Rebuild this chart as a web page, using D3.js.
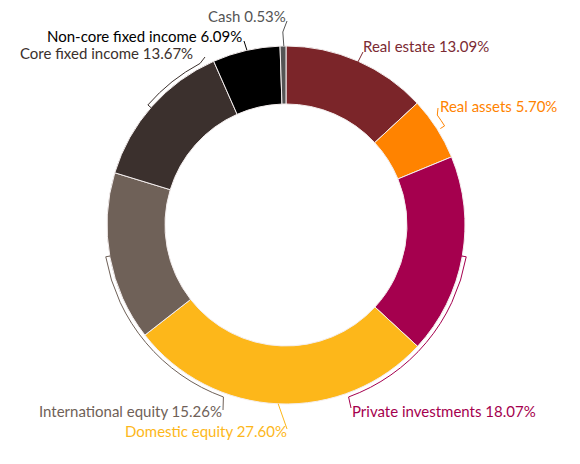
<!DOCTYPE html>
<html>
<head>
<meta charset="utf-8">
<script src="https://cdn.jsdelivr.net/npm/d3@7"></script>
<style>
  body { margin: 0; background: #fff; }
  text { font-family: Lato, "Open Sans", sans-serif; }
</style>
</head>
<body>
<div id="chart"></div>
<script>
// slices, clockwise from 12 o'clock
const categories = ["Real estate", "Real assets", "Private investments", "Domestic equity",
  "International equity", "Core fixed income", "Non-core fixed income", "Cash"];
const values = [13.09, 5.70, 18.07, 27.60, 15.26, 13.67, 6.09, 0.53];
const colors = ["#7b2529", "#ff8300", "#a5004e", "#fdb71a", "#6f6158", "#3b302d", "#000000", "#555555"];
const labelColors = ["#7b2a33", "#ff8300", "#a5004e", "#fdb71a", "#6f6158", "#3b302d", "#000000", "#555555"];

const width = 580, height = 464;
const cx = 286, cy = 225, rOuter = 179, rInner = 121, rBr = 183;

let svg = d3.select("#chart").append("svg")
  .attr("width", width).attr("height", height);

let pie = d3.pie().sort(null).value(d => d);
let arcs = pie(values);

let arc = d3.arc().innerRadius(rInner).outerRadius(rOuter);

let g = svg.append("g").attr("transform", `translate(${cx},${cy})`);

g.selectAll("path.slice")
  .data(arcs)
  .join("path")
  .attr("class", "slice")
  .attr("d", arc)
  .attr("fill", (d, i) => colors[i])
  .attr("stroke", "#f4eeee")
  .attr("stroke-width", 1);

// point at angle (deg, clockwise from top) and radius
const pt = (deg, r) => {
  let a = (deg - 90) * Math.PI / 180;
  return [cx + r * Math.cos(a), cy + r * Math.sin(a)];
};

// label layout: text start x, baseline y, and leader / bracket shape
const layout = [
  {x: 363, y: 52, kind: "line", from: [23.8, 178], to: [363, 52]},
  {x: 440, y: 112, kind: "bracket", a0: 58, a1: 54, r: 187, to: [438, 108]},
  {x: 352, y: 417, kind: "bracket", a0: 100, a1: 160, r: rBr, to: [351, 408]},
  {x: 125, y: 437, kind: "line", from: [182.5, 179], to: [287, 429]},
  {x: 39, y: 417, kind: "bracket", a0: 260, a1: 200, r: rBr, to: [223, 410]},
  {x: 20, y: 59, kind: "bracket", a0: 311, a1: 332, r: rBr, to: [205, 57]},
  {x: 47, y: 42, kind: "line", from: [347.4, 179], to: [244, 41]},
  {x: 208, y: 22, kind: "cash", from: [359.3, 179], to: [287, 21]}
];

layout.forEach((l, i) => {
  let p = d3.path();
  if (l.kind === "bracket") {
    let s0 = pt(l.a0, l.r - 5), s1 = pt(l.a0, l.r);
    p.moveTo(...s0);
    p.lineTo(...s1);
    p.arc(cx, cy, l.r, (l.a0 - 90) * Math.PI / 180, (l.a1 - 90) * Math.PI / 180, l.a1 < l.a0);
    p.lineTo(...l.to);
  } else if (l.kind === "cash") {
    let s = pt(l.from[0], l.from[1]);
    p.moveTo(...s);
    p.lineTo(s[0] - 1, 32);
    p.lineTo(...l.to);
  } else {
    p.moveTo(...pt(l.from[0], l.from[1]));
    p.lineTo(...l.to);
  }
  svg.append("path")
    .attr("d", p.toString())
    .attr("fill", "none")
    .attr("stroke", labelColors[i])
    .attr("stroke-width", 1);

  svg.append("text")
    .attr("x", l.x)
    .attr("y", l.y)
    .attr("fill", labelColors[i])
    .style("font-size", "15px")
    .text(`${categories[i]} ${values[i].toFixed(2)}%`);
});
</script>
</body>
</html>
